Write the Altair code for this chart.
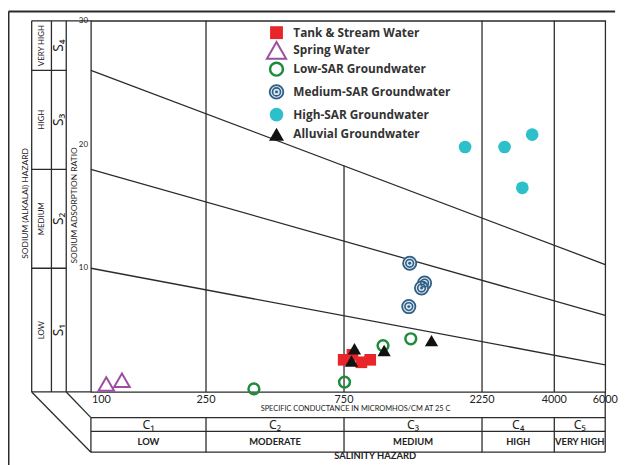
import altair as alt
import pandas as pd

# ---------------- data ----------------
tank_ec = [748, 802, 861, 924]
tank_sar = [2.6, 3.0, 2.4, 2.6]
spring_ec = [113, 128]
spring_sar = [0.65, 0.95]
low_ec = [366, 753, 1023, 1276]
low_sar = [0.25, 0.8, 3.75, 4.3]
med_ec = [1265, 1424, 1390, 1256]
med_sar = [10.4, 8.8, 8.4, 6.9]
high_ec = [1966, 2692, 3354, 3101]
high_sar = [19.8, 19.8, 20.8, 16.5]
allu_ec = [815, 796, 1032, 1505]
allu_sar = [3.5, 2.5, 3.35, 4.15]

series_names = ["Tank & Stream Water", "Spring Water", "Low-SAR Groundwater",
                "Medium-SAR Groundwater", "High-SAR Groundwater", "Alluvial Groundwater"]

ec_ticks = [100, 250, 750, 2250, 4000, 6000]
sar_ticks = [10, 20, 30]
grid_ec = [250, 750, 2250, 4000]
grid_top = [30, 18.3, 30, 30]
boundary_sar_at_100 = [10, 18, 26]
boundary_sar_at_6000 = [2.2, 6.2, 10.3]
salinity_lo = [100, 250, 750, 2250, 4000]
salinity_hi = [250, 750, 2250, 4000, 6000]
salinity_codes = ["C\u2081", "C\u2082", "C\u2083", "C\u2084", "C\u2085"]
salinity_names = ["LOW", "MODERATE", "MEDIUM", "HIGH", "VERY HIGH"]
sodium_lo = [0, 10, 18, 26]
sodium_hi = [10, 18, 26, 30]
sodium_codes = ["S\u2081", "S\u2082", "S\u2083", "S\u2084"]
sodium_names = ["LOW", "MEDIUM", "HIGH", "VERY HIGH"]

# ---------------- styling ----------------
W, H = 521, 376
LINE = "#2b2b2b"
TXT = "#222222"
FONT = "Lato"
RED = "#e8262a"
PURPLE = "#9c4fa0"
GREEN = "#1e8c3c"
BLUE = "#2f5f86"
BLUE_FILL = "#dbe6f0"
CYAN = "#2dbfca"
BLACK = "#111111"

XS = alt.Scale(type="log", domain=[100, 6000], nice=False)
YS = alt.Scale(domain=[0, 30], nice=False, zero=False)

anchor = pd.DataFrame({"a": [0]})
layers = []


def rule(x1, y1, x2, y2, w=1.3, color=LINE):
    return alt.Chart(anchor).mark_rule(color=color, strokeWidth=w).encode(
        x=alt.value(x1), x2=alt.value(x2), y=alt.value(y1), y2=alt.value(y2))


def label(text, x, y, size, weight="normal", angle=0, align="center",
          font=FONT, color=TXT):
    return alt.Chart(anchor).mark_text(
        text=text, fontSize=size, fontWeight=weight, angle=angle, align=align,
        baseline="middle", font=font, color=color).encode(
        x=alt.value(x), y=alt.value(y))


def xy(ec, sar):
    return pd.DataFrame({"ec": ec, "sar": sar})


def enc(ch):
    return ch.encode(x=alt.X("ec:Q", scale=XS, axis=None),
                     y=alt.Y("sar:Q", scale=YS, axis=None))


# outer frame (top and left)
layers.append(rule(-83.5, -9.5, 531, -9.5, w=2))
layers.append(rule(-83.5, -9.5, -83.5, 450, w=2))

# left panel structure
layers.append(rule(-60, 0, 0, 0))
layers.append(rule(-60, H, 0, H))
for xv in [-60, -40, -25]:
    layers.append(rule(xv, 0, xv, H))
div_df = pd.DataFrame({"sar": sodium_hi[:-1]})
layers.append(alt.Chart(div_df).mark_rule(color=LINE, strokeWidth=1.3).encode(
    x=alt.value(-60), x2=alt.value(-25), y=alt.Y("sar:Q", scale=YS, axis=None)))
layers.append(rule(-60, H, 0, 437))
layers.append(rule(-25, H, 0, 402))

# bottom panel structure
for yv in [402, 416, 437]:
    layers.append(rule(0, yv, W, yv))
layers.append(rule(0, 402, 0, 437))
layers.append(rule(W, H, W, 437))
layers.append(alt.Chart(pd.DataFrame({"ec": grid_ec})).mark_rule(
    color=LINE, strokeWidth=1.3).encode(
    x=alt.X("ec:Q", scale=XS, axis=None), y=alt.value(402), y2=alt.value(437)))

# grid verticals inside plot
layers.append(alt.Chart(pd.DataFrame({"ec": grid_ec, "top": grid_top})).mark_rule(
    color=LINE, strokeWidth=1.3).encode(
    x=alt.X("ec:Q", scale=XS, axis=None),
    y=alt.Y("top:Q", scale=YS, axis=None), y2=alt.value(H)))

# hazard boundary lines
bdf = pd.DataFrame({"ec_lo": [100] * 3, "ec_hi": [6000] * 3,
                    "sar_lo": boundary_sar_at_100, "sar_hi": boundary_sar_at_6000})
layers.append(alt.Chart(bdf).mark_rule(color=LINE, strokeWidth=1.3).encode(
    x=alt.X("ec_lo:Q", scale=XS, axis=None), x2="ec_hi:Q",
    y=alt.Y("sar_lo:Q", scale=YS, axis=None), y2="sar_hi:Q"))

# ---------------- data marks ----------------
layers.append(enc(alt.Chart(xy(tank_ec, tank_sar)).mark_point(
    shape="square", filled=True, color=RED, size=140, opacity=1)))
layers.append(enc(alt.Chart(xy(spring_ec, spring_sar)).mark_point(
    shape="triangle-up", filled=False, color=PURPLE, size=250, strokeWidth=2, opacity=1)))
layers.append(enc(alt.Chart(xy(low_ec, low_sar)).mark_point(
    shape="circle", filled=False, color=GREEN, size=120, strokeWidth=2.5, opacity=1)))
layers.append(enc(alt.Chart(xy(med_ec, med_sar)).mark_circle(
    fill=BLUE_FILL, stroke=BLUE, strokeWidth=1.8, size=180, opacity=1)))
layers.append(enc(alt.Chart(xy(med_ec, med_sar)).mark_point(
    shape="circle", filled=False, color=BLUE, strokeWidth=1.6, size=60, opacity=1)))
layers.append(enc(alt.Chart(xy(med_ec, med_sar)).mark_circle(
    color=BLUE, size=9, opacity=1)))
layers.append(enc(alt.Chart(xy(high_ec, high_sar)).mark_circle(
    color=CYAN, size=165, opacity=1)))
layers.append(enc(alt.Chart(xy(allu_ec, allu_sar)).mark_point(
    shape="triangle-up", filled=True, color=BLACK, size=180, opacity=1)))

# ---------------- legend ----------------
LX, TX = 188, 205
rows = [12, 30, 49, 72, 95, 115]
layers.append(alt.Chart(anchor).mark_point(shape="square", filled=True, color=RED,
              size=170, opacity=1).encode(x=alt.value(LX), y=alt.value(rows[0])))
layers.append(alt.Chart(anchor).mark_point(shape="triangle-up", filled=False, color=PURPLE,
              size=380, strokeWidth=2, opacity=1).encode(x=alt.value(LX), y=alt.value(rows[1])))
layers.append(alt.Chart(anchor).mark_point(shape="circle", filled=False, color=GREEN,
              size=170, strokeWidth=2.5, opacity=1).encode(x=alt.value(LX), y=alt.value(rows[2])))
layers.append(alt.Chart(anchor).mark_circle(fill=BLUE_FILL, stroke=BLUE, strokeWidth=1.8,
              size=190, opacity=1).encode(x=alt.value(LX), y=alt.value(rows[3])))
layers.append(alt.Chart(anchor).mark_point(shape="circle", filled=False, color=BLUE,
              strokeWidth=1.6, size=65, opacity=1).encode(x=alt.value(LX), y=alt.value(rows[3])))
layers.append(alt.Chart(anchor).mark_circle(color=BLUE, size=9, opacity=1).encode(
    x=alt.value(LX), y=alt.value(rows[3])))
layers.append(alt.Chart(anchor).mark_circle(color=CYAN, size=190, opacity=1).encode(
    x=alt.value(LX), y=alt.value(rows[4])))
layers.append(alt.Chart(anchor).mark_point(shape="triangle-up", filled=True, color=BLACK,
              size=230, opacity=1).encode(x=alt.value(LX), y=alt.value(rows[5])))
for name, ry in zip(series_names, rows):
    layers.append(label(name, TX, ry, 12, weight="bold", align="left",
                        font="Open Sans", color="#333333"))

# ---------------- texts ----------------
tick_df = pd.DataFrame({"ec": ec_ticks, "lab": [str(v) for v in ec_ticks]})
layers.append(alt.Chart(tick_df).transform_filter("datum.ec == 100").mark_text(
    fontSize=11, font=FONT, color=TXT, align="left", baseline="middle", dx=1).encode(
    x=alt.X("ec:Q", scale=XS, axis=None), y=alt.value(384), text="lab:N"))
layers.append(alt.Chart(tick_df).transform_filter("datum.ec > 100").mark_text(
    fontSize=11, font=FONT, color=TXT, align="center", baseline="middle").encode(
    x=alt.X("ec:Q", scale=XS, axis=None), y=alt.value(384), text="lab:N"))

sar_df = pd.DataFrame({"sar": sar_ticks, "lab": [str(v) for v in sar_ticks]})
layers.append(alt.Chart(sar_df).mark_text(
    fontSize=8, font=FONT, color=TXT, align="right", baseline="middle").encode(
    x=alt.value(-3), y=alt.Y("sar:Q", scale=YS, axis=None), text="lab:N"))

layers.append(label("SPECIFIC CONDUCTANCE IN MICROMHOS/CM AT 25  C", 268, 393, 7.5))

sal_df = pd.DataFrame({"lo": salinity_lo, "hi": salinity_hi,
                       "code": salinity_codes, "name": salinity_names})
layers.append(alt.Chart(sal_df).transform_calculate(mid="sqrt(datum.lo*datum.hi)").mark_text(
    fontSize=12.5, font="Noto Sans", color=TXT, baseline="middle").encode(
    x=alt.X("mid:Q", scale=XS, axis=None), y=alt.value(409), text="code:N"))
layers.append(alt.Chart(sal_df).transform_calculate(mid="sqrt(datum.lo*datum.hi)").mark_text(
    fontSize=9.5, font=FONT, fontWeight="bold", color=TXT, baseline="middle").encode(
    x=alt.X("mid:Q", scale=XS, axis=None), y=alt.value(427), text="name:N"))
layers.append(label("SALINITY HAZARD", 288, 441, 9.5, weight="bold"))

sod_df = pd.DataFrame({"lo": sodium_lo, "hi": sodium_hi,
                       "code": sodium_codes, "name": sodium_names})
layers.append(alt.Chart(sod_df).transform_calculate(mid="(datum.lo+datum.hi)/2").mark_text(
    fontSize=8, font=FONT, color=TXT, angle=270, baseline="middle").encode(
    x=alt.value(-50), y=alt.Y("mid:Q", scale=YS, axis=None), text="name:N",
    ))
layers.append(alt.Chart(sod_df).transform_calculate(mid="(datum.lo+datum.hi)/2").mark_text(
    fontSize=14, font="Noto Sans", color=TXT, angle=270, baseline="middle").encode(
    x=alt.value(-32), y=alt.Y("mid:Q", scale=YS, axis=None), text="code:N"))
layers.append(label("SODIUM ADSORPTION RATIO", -17, 187, 8.5, angle=270))
layers.append(label("SODIUM (ALKALAI) HAZARD", -67, 185, 8.5, angle=270))

chart = alt.layer(*layers).properties(
    width=W, height=H,
    padding={"left": 84, "top": 10, "right": 18, "bottom": 71},
    autosize=alt.AutoSizeParams(type="none"),
    background="white",
).configure_view(stroke=LINE, strokeWidth=1.3)

chart.save("out.html", embed_options={"renderer": "svg", "actions": False})
